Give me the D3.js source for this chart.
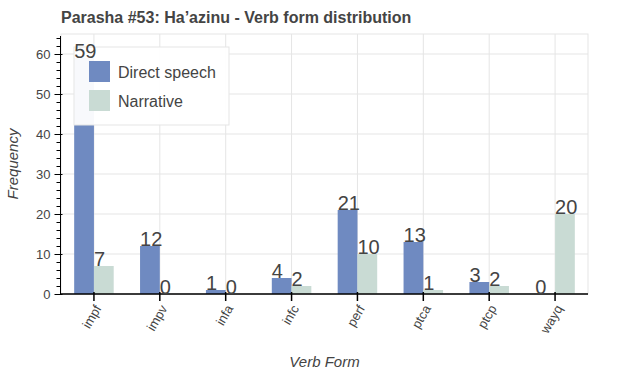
<!DOCTYPE html>
<html>
<head>
<meta charset="utf-8">
<script src="https://cdn.jsdelivr.net/npm/d3@7"></script>
<style>
  body { margin: 0; background: #fff; }
  svg { font-family: "Liberation Sans", Arial, sans-serif; }
</style>
</head>
<body>
<svg id="chart"></svg>
<script>
const forms = ["impf", "impv", "infa", "infc", "perf", "ptca", "ptcp", "wayq"];
const directSpeech = [59, 12, 1, 4, 21, 13, 3, 0];
const narrative = [7, 0, 0, 2, 10, 1, 2, 20];
const seriesNames = ["Direct speech", "Narrative"];
const yTicks = [0, 10, 20, 30, 40, 50, 60];

const size = { width: 625, height: 375 };
const padding = { top: 34, bottom: 81, left: 61, right: 37 };
const colors = ["#6f8ac1", "#c9dbd4"];

const svg = d3.select("#chart").attr("width", size.width).attr("height", size.height);

const xScale = d3.scaleBand().domain(forms).range([padding.left, size.width - padding.right]);
const yScale = d3.scaleLinear().domain([0, 65]).range([size.height - padding.bottom, padding.top]);
const barW = xScale.bandwidth() * 0.3;

// grid
svg.append("g").selectAll("line").data(yTicks).enter().append("line")
  .attr("x1", padding.left).attr("x2", size.width - padding.right)
  .attr("y1", d => yScale(d)).attr("y2", d => yScale(d))
  .attr("stroke", "#e5e5e5").attr("stroke-width", 1);
svg.append("g").selectAll("line").data(forms).enter().append("line")
  .attr("x1", d => xScale(d) + xScale.bandwidth() / 2).attr("x2", d => xScale(d) + xScale.bandwidth() / 2)
  .attr("y1", padding.top).attr("y2", yScale(0))
  .attr("stroke", "#e5e5e5").attr("stroke-width", 1);
// outline
svg.append("rect")
  .attr("x", padding.left).attr("y", padding.top)
  .attr("width", size.width - padding.left - padding.right)
  .attr("height", yScale(0) - padding.top)
  .attr("fill", "none").attr("stroke", "#e5e5e5").attr("stroke-width", 1);

// bars
const rows = forms.map((f, i) => ({ form: f, values: [directSpeech[i], narrative[i]] }));
const groups = svg.append("g").selectAll("g").data(rows).enter().append("g");
groups.selectAll("rect").data(d => d.values.map((v, k) => ({ form: d.form, v, k }))).enter().append("rect")
  .attr("x", d => xScale(d.form) + xScale.bandwidth() / 2 + (d.k - 1) * barW)
  .attr("y", d => yScale(d.v))
  .attr("width", barW)
  .attr("height", d => yScale(0) - yScale(d.v))
  .attr("fill", d => colors[d.k]);

// axes
const yAxis = d3.axisLeft(yScale).tickValues(yTicks).tickSize(6).tickPadding(4);
const yG = svg.append("g").attr("transform", `translate(${padding.left - 0.5},0)`).call(yAxis);
yG.select(".domain").attr("d", `M0,${yScale(0)}V${padding.top + 2}`).attr("stroke", "#000");
yG.selectAll(".tick line").attr("x2", -6).attr("x1", 2).attr("stroke", "#000");
yG.selectAll("text").attr("font-size", 13).attr("fill", "#444").attr("font-family", "Liberation Sans, Arial, sans-serif");
const minor = d3.range(0, 65, 2).filter(v => v % 10 !== 0);
yG.selectAll(".minor").data(minor).enter().append("line").attr("class", "minor")
  .attr("x1", -4).attr("x2", 0).attr("y1", d => yScale(d) + 0.5).attr("y2", d => yScale(d) + 0.5)
  .attr("stroke", "#000");

const xAxis = d3.axisBottom(xScale).tickSize(6).tickPadding(6);
const xG = svg.append("g").attr("transform", `translate(0,${yScale(0)})`).call(xAxis);
xG.select(".domain").attr("d", `M${padding.left},0H${size.width - padding.right}`).attr("stroke", "#000").attr("stroke-width", 1.5);
xG.selectAll(".tick line").attr("y1", -2).attr("y2", 7).attr("stroke", "#000").attr("stroke-width", 1.5);
xG.selectAll("text")
  .attr("font-size", 13).attr("fill", "#444").attr("font-family", "Liberation Sans, Arial, sans-serif")
  .attr("text-anchor", "end").attr("dy", "0.35em")
  .attr("transform", "translate(4,12) rotate(-60)").attr("y", 0).attr("x", 0);

// title
svg.append("text").attr("x", padding.left).attr("y", 23)
  .attr("font-size", 16).attr("font-weight", "bold").attr("fill", "#444")
  .text("Parasha #53: Ha\u2019azinu - Verb form distribution");

// axis labels
svg.append("text")
  .attr("transform", `translate(18,${(padding.top + yScale(0)) / 2}) rotate(-90)`)
  .attr("text-anchor", "middle").attr("font-size", 15).attr("font-style", "italic").attr("fill", "#444")
  .text("Frequency");
svg.append("text")
  .attr("x", (padding.left + size.width - padding.right) / 2).attr("y", 367)
  .attr("text-anchor", "middle").attr("font-size", 15).attr("font-style", "italic").attr("fill", "#444")
  .text("Verb Form");

// legend
const legend = svg.append("g").attr("transform", "translate(74,47)");
legend.append("rect").attr("width", 155).attr("height", 78)
  .attr("fill", "#fff").attr("fill-opacity", 0.95).attr("stroke", "#e5e5e5").attr("stroke-width", 1);
const items = legend.selectAll("g").data(seriesNames).enter().append("g")
  .attr("transform", (_, i) => `translate(15,${14 + i * 29})`);
items.append("rect").attr("width", 21).attr("height", 21).attr("fill", (_, i) => colors[i]);
items.append("text").attr("x", 29).attr("y", 11).attr("dy", "0.35em")
  .attr("font-size", 16).attr("fill", "#444").text(d => d);

// value labels (drawn over the legend)
const labels = svg.append("g");
rows.forEach(r => {
  r.values.forEach((v, k) => {
    labels.append("text")
      .attr("x", xScale(r.form) + xScale.bandwidth() / 2 + (k - 1) * barW)
      .attr("y", yScale(v))
      .attr("font-size", 20).attr("fill", "#444")
      .text(v);
  });
});
</script>
</body>
</html>
